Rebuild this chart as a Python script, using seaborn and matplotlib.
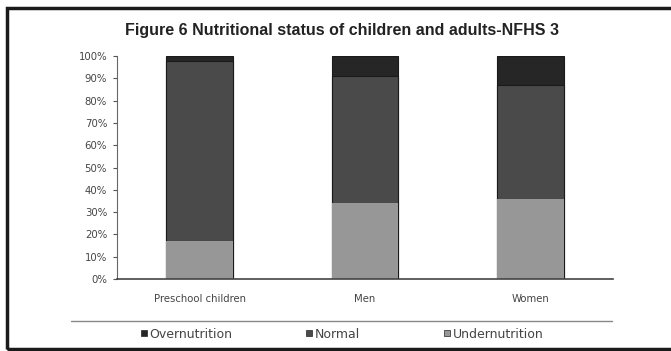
import pandas as pd
import seaborn as sns
import matplotlib.pyplot as plt
from matplotlib.lines import Line2D
from matplotlib.patches import Rectangle

# values (percent)
groups = ["Preschool children", "Men", "Women"]
undernutrition = [17, 34, 36]
normal = [81, 57, 51]
overnutrition = [2, 9, 13]
series = ["Overnutrition", "Normal", "Undernutrition"]
colours = {"Overnutrition": "#262626", "Normal": "#4a4a4a", "Undernutrition": "#979797"}

df = pd.DataFrame({"group": groups, "Undernutrition": undernutrition,
                   "Normal": normal, "Overnutrition": overnutrition})
df["top_normal"] = df["Undernutrition"] + df["Normal"]
df["top_over"] = df["top_normal"] + df["Overnutrition"]

sns.set_style("white")
plt.rcParams["font.family"] = ["DejaVu Sans"]

fig = plt.figure(figsize=(6.71, 3.51), dpi=100)
ax = fig.add_axes([0.174, 0.205, 0.74, 0.635])

# stacked bars: draw cumulative heights back to front
sns.barplot(data=df, x="group", y="top_over", color=colours["Overnutrition"],
            width=0.40, edgecolor="#1a1a1a", linewidth=0.8, ax=ax)
sns.barplot(data=df, x="group", y="top_normal", color=colours["Normal"],
            width=0.40, edgecolor="#1a1a1a", linewidth=0.8, ax=ax)
sns.barplot(data=df, x="group", y="Undernutrition", color=colours["Undernutrition"],
            width=0.40, edgecolor="none", linewidth=0, ax=ax)

ax.set_xlim(-0.5, 2.5)
ax.set_ylim(0, 100)
ax.set_yticks(range(0, 101, 10))
ax.set_yticklabels([f"{v}%" for v in range(0, 101, 10)])
ax.set_xlabel("")
ax.set_ylabel("")
ax.set_xticks([0.5, 1.5], minor=True)
ax.tick_params(axis="x", which="major", length=0, pad=11, labelsize=7.3, colors="#444444")
ax.tick_params(axis="x", which="minor", length=3, direction="out", color="#888888")
ax.tick_params(axis="y", length=3, direction="out", color="#555555", labelsize=7.3,
               labelcolor="#444444", left=True, pad=4)
for s in ["top", "right"]:
    ax.spines[s].set_visible(False)
ax.spines["left"].set_color("#666666")
ax.spines["bottom"].set_color("#444444")
ax.spines["left"].set_linewidth(0.8)
ax.spines["bottom"].set_linewidth(1.2)

fig.text(0.51, 1 - 30 / 351, "Figure 6 Nutritional status of children and adults-NFHS 3",
         ha="center", va="center", fontsize=11.5, fontweight="bold", color="#222222",
         family=["Liberation Sans", "DejaVu Sans"])

# separator above legend and outer frame
fig.add_artist(Line2D([71 / 671, 612 / 671], [1 - 321 / 351] * 2,
                      color="#888888", linewidth=1.0))
fig.add_artist(Rectangle((6.5 / 671, 2 / 351), 1.0, 1 - 10 / 351, fill=False,
                         edgecolor="#1a1a1a", linewidth=2.5, transform=fig.transFigure))

# one legend entry per series, placed where the reference has them
legend_x = [143, 308, 446]
for s, xpix in zip(series, legend_x):
    h = Line2D([], [], marker="s", linestyle="none", markersize=5,
               markerfacecolor=colours[s], markeredgecolor="#222222",
               markeredgewidth=0.5, label=s)
    fig.legend(handles=[h], loc="center left",
               bbox_to_anchor=((xpix - 4.5) / 671, 1 - 334 / 351),
               frameon=False, fontsize=9, handletextpad=0.1, handlelength=0.8,
               borderpad=0, borderaxespad=0, labelcolor="#444444")

plt.savefig("out.png", dpi=100)
plt.close()
